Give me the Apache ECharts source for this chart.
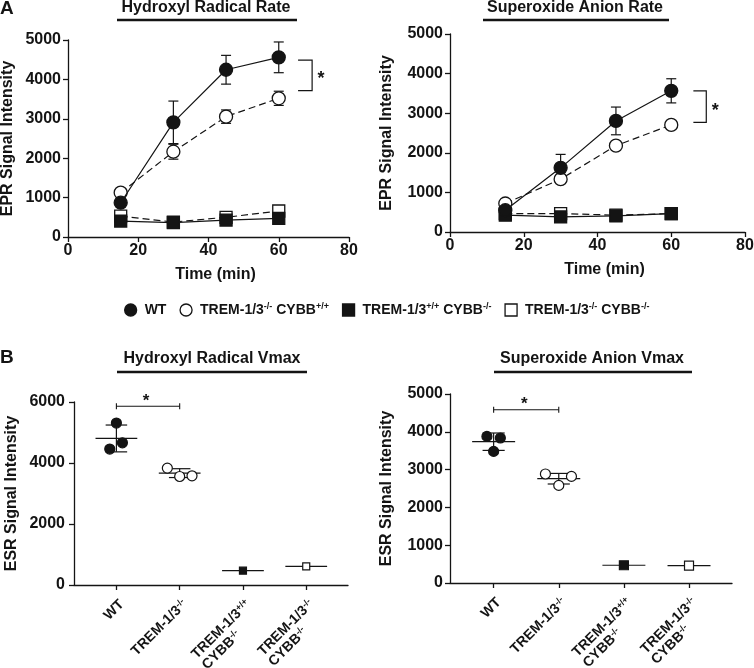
<!DOCTYPE html>
<html><head><meta charset="utf-8">
<script src="https://cdn.jsdelivr.net/npm/echarts@6/dist/echarts.min.js"></script>
<style>html,body{margin:0;padding:0;background:#fff}#c{width:754px;height:668px}</style>
</head><body><div id="c"></div>
<script>
// ---------- Panel A: time course ----------
const timeMin = [15, 30, 45, 60];
const groupNames = ['WT', 'TREM-1/3-/- CYBB+/+', 'TREM-1/3+/+ CYBB-/-', 'TREM-1/3-/- CYBB-/-'];
const legendLabels = ['WT', 'TREM-1/3{s|-/-} CYBB{s|+/+}', 'TREM-1/3{s|+/+} CYBB{s|-/-}', 'TREM-1/3{s|-/-} CYBB{s|-/-}'];
const xTicksA = [0, 20, 40, 60, 80];

// Hydroxyl radical rate (EPR signal intensity)
const hydroxylWT = [870, 2910, 4245, 4560];
const hydroxylWTErr = [60, 540, 365, 390];
const hydroxylTrem = [1125, 2165, 3055, 3520];
const hydroxylTremErr = [60, 190, 170, 180];
const hydroxylCybb = [405, 365, 430, 475];
const hydroxylCybbErr = [40, 40, 40, 40];
const hydroxylDouble = [530, 380, 500, 660];
const hydroxylDoubleErr = [40, 40, 40, 40];

// Superoxide anion rate (EPR signal intensity)
const superoxideWT = [550, 1620, 2805, 3565];
const superoxideWTErr = [80, 340, 350, 305];
const superoxideTrem = [720, 1335, 2180, 2705];
const superoxideTremErr = [100, 50, 50, 50];
const superoxideCybb = [425, 380, 405, 465];
const superoxideCybbErr = [40, 40, 40, 40];
const superoxideDouble = [465, 465, 425, 465];
const superoxideDoubleErr = [40, 40, 40, 40];

// significance brackets in panel A: [x1, x2, yTop, yBottom]
const bracketHydroxylRate = [65.5, 69.5, 4490, 3715];
const bracketSuperoxideRate = [66, 69.5, 3565, 2770];

// ---------- Panel B: Vmax ----------
const categoriesB = ['WT', 'TREM-1/3-/-', 'TREM-1/3+/+ CYBB-/-', 'TREM-1/3-/- CYBB-/-'];
const categoryLabelsB = ['{b|WT}', '{b|TREM-1/3}{s|-/-}', '{b|TREM-1/3}{s|+/+}\n{b|CYBB}{s|-/-}', '{b|TREM-1/3}{s|-/-}\n{b|CYBB}{s|-/-}'];

const hydroxylVmaxWT = [4457, 5310, 4663];
const hydroxylVmaxTrem = [3832, 3558, 3580];
const hydroxylVmaxCybb = [470];
const hydroxylVmaxDouble = [610];
const hydroxylVmaxMean = [4805, 3668, 470, 610];
const hydroxylVmaxSD = [440, 145, 0, 0];
const bracketHydroxylVmax = [0, 1, 5860];

const superoxideVmaxWT = [3878, 3836, 3482];
const superoxideVmaxTrem = [2884, 2820, 2582];
const superoxideVmaxCybb = [470];
const superoxideVmaxDouble = [460];
const superoxideVmaxMean = [3738, 2759, 470, 460];
const superoxideVmaxSD = [230, 140, 0, 0];
const bracketSuperoxideVmax = [0, 1, 4585];

// layout-only jitter offsets of the replicate dots (category units)
const jitterHydroxylWT = [-0.105, 0, 0.095];
const jitterHydroxylTrem = [-0.195, 0, 0.195];
const jitterSuperoxideWT = [-0.103, 0.103, 0];
const jitterSuperoxideTrem = [-0.205, 0.195, 0];

// ---------- styling ----------
const FONT = '"Liberation Sans", Arial, Helvetica, sans-serif';
const INK = '#141414';
const zip = (xs, ys) => xs.map((x, i) => [x, ys[i]]);
const errData = (xs, m, e) => xs.map((x, i) => [x, m[i] - e[i], m[i] + e[i]]);

const markerStyles = [
  { symbol: 'circle', fill: INK, dash: 'solid' },
  { symbol: 'circle', fill: '#fff', dash: [7, 4] },
  { symbol: 'rect', fill: INK, dash: 'solid' },
  { symbol: 'rect', fill: '#fff', dash: [7, 4] }
];

function axisCommon() {
  return {
    axisLine: { show: true, onZero: false, lineStyle: { color: INK, width: 1.3 } },
    axisTick: { show: true, length: 5, lineStyle: { color: INK, width: 1.3 } },
    splitLine: { show: false },
    axisLabel: { color: INK, fontSize: 16, fontWeight: 'bold', fontFamily: FONT }
  };
}

function errRender(capPx) {
  return function (params, api) {
    const x = api.value(0), lo = api.value(1), hi = api.value(2);
    const a = api.coord([x, lo]), b = api.coord([x, hi]);
    const st = { stroke: INK, lineWidth: 1.2 };
    return { type: 'group', children: [
      { type: 'line', shape: { x1: a[0], y1: a[1], x2: b[0], y2: b[1] }, style: st },
      { type: 'line', shape: { x1: a[0] - capPx, y1: a[1], x2: a[0] + capPx, y2: a[1] }, style: st },
      { type: 'line', shape: { x1: b[0] - capPx, y1: b[1], x2: b[0] + capPx, y2: b[1] }, style: st }
    ] };
  };
}

function bracketARender(params, api) {
  const x1 = api.value(0), x2 = api.value(1), yt = api.value(2), yb = api.value(3);
  const p1 = api.coord([x1, yt]), p2 = api.coord([x2, yt]), p3 = api.coord([x2, yb]), p4 = api.coord([x1, yb]);
  return { type: 'group', children: [
    { type: 'polyline', shape: { points: [p1, p2, p3, p4] }, style: { stroke: INK, lineWidth: 1.2, fill: null } },
    { type: 'text', x: p2[0] + 9, y: (p2[1] + p3[1]) / 2 + 4,
      style: { text: '*', font: 'bold 18px ' + FONT, textAlign: 'center', textVerticalAlign: 'middle', fill: INK } }
  ] };
}

function bracketBRender(params, api) {
  const x1 = api.value(0), x2 = api.value(1), y = api.value(2);
  const a = api.coord([x1, y]), b = api.coord([x2, y]);
  const st = { stroke: INK, lineWidth: 1.1 };
  return { type: 'group', children: [
    { type: 'line', shape: { x1: a[0], y1: a[1], x2: b[0], y2: b[1] }, style: st },
    { type: 'line', shape: { x1: a[0], y1: a[1] - 3, x2: a[0], y2: a[1] + 3 }, style: st },
    { type: 'line', shape: { x1: b[0], y1: b[1] - 3, x2: b[0], y2: b[1] + 3 }, style: st },
    { type: 'text', x: (a[0] + b[0]) / 2 - 2, y: a[1] - 5,
      style: { text: '*', font: 'bold 17px ' + FONT, textAlign: 'center', textVerticalAlign: 'middle', fill: INK } }
  ] };
}

function meanSdRender(params, api) {
  const g = api.value(0), m = api.value(1), sd = api.value(2);
  const st = { stroke: INK, lineWidth: 1.2 };
  const l = api.coord([g - 0.33, m]), r = api.coord([g + 0.33, m]);
  const kids = [{ type: 'line', shape: { x1: l[0], y1: l[1], x2: r[0], y2: r[1] }, style: st }];
  if (sd > 0) {
    const t = api.coord([g, m + sd]), b = api.coord([g, m - sd]);
    const cl = api.coord([g - 0.17, m])[0], cr = api.coord([g + 0.17, m])[0];
    kids.push({ type: 'line', shape: { x1: t[0], y1: t[1], x2: b[0], y2: b[1] }, style: st });
    kids.push({ type: 'line', shape: { x1: cl, y1: t[1], x2: cr, y2: t[1] }, style: st });
    kids.push({ type: 'line', shape: { x1: cl, y1: b[1], x2: cr, y2: b[1] }, style: st });
  }
  return { type: 'group', children: kids };
}

function lineSeries(idx, axisIdx, ys, zBase) {
  const m = markerStyles[idx];
  return {
    type: 'line', name: groupNames[idx], xAxisIndex: axisIdx, yAxisIndex: axisIdx,
    data: zip(timeMin, ys), symbol: m.symbol, symbolSize: m.symbol === 'circle' ? 13 : 12,
    itemStyle: { color: m.fill, borderColor: INK, borderWidth: 1.3, opacity: 1 },
    lineStyle: { color: INK, width: 1.2, type: m.dash },
    z: zBase + [4, 3, 2, 1][idx], animation: false, silent: true
  };
}

function scatterSeries(idx, axisIdx, pts, size) {
  const m = markerStyles[idx];
  return {
    type: 'scatter', name: groupNames[idx], xAxisIndex: axisIdx, yAxisIndex: axisIdx,
    data: pts, symbol: m.symbol, symbolSize: size,
    itemStyle: { color: m.fill, borderColor: INK, borderWidth: 1.2, opacity: 1 },
    z: 5, animation: false, silent: true
  };
}

const richB = {
  b: { fontSize: 14, fontWeight: 'bold', fontFamily: FONT, color: INK, align: 'left', lineHeight: 15 },
  s: { fontSize: 9, fontWeight: 'bold', fontFamily: FONT, color: INK, align: 'left', verticalAlign: 'top', lineHeight: 10 }
};

function xAxisB(gridIndex) {
  const c = axisCommon();
  return Object.assign(c, {
    type: 'value', gridIndex, min: -0.67, max: 3.66,
    axisTick: { show: true, length: 5, lineStyle: { color: INK, width: 1.3 }, customValues: [0, 1, 2, 3] },
    axisLabel: { color: INK, fontSize: 14, fontWeight: 'bold', fontFamily: FONT, rotate: 45, margin: 12,
      verticalAlign: 'top',
      customValues: [0, 1, 2, 3], formatter: v => categoryLabelsB[Math.round(v)], rich: richB }
  });
}

function xAxisA(gridIndex) {
  const c = axisCommon();
  c.axisLabel.margin = 6;
  c.axisLabel.formatter = v => String(v);
  return Object.assign(c, {
    type: 'value', gridIndex, min: xTicksA[0], max: xTicksA[xTicksA.length - 1], interval: 20,
    name: 'Time (min)', nameLocation: 'middle', nameGap: 30,
    nameTextStyle: { color: INK, fontSize: 16, fontWeight: 'bold', fontFamily: FONT, padding: [0, 0, 0, 14] }
  });
}

function yAxis(gridIndex, max, interval, name, gap, margin) {
  const c = axisCommon();
  c.axisLabel.margin = margin;
  c.axisLabel.formatter = v => String(v);
  return Object.assign(c, {
    type: 'value', gridIndex, min: 0, max, interval,
    name, nameLocation: 'middle', nameGap: gap, nameRotate: 90,
    nameTextStyle: { color: INK, fontSize: 16, fontWeight: 'bold', fontFamily: FONT }
  });
}

const chart = echarts.init(document.getElementById('c'), null, { renderer: 'canvas' });

const titleStyle = t => ({ text: t, font: 'bold 16px ' + FONT, fill: INK, textAlign: 'center', textVerticalAlign: 'middle' });
const underline = (x1, x2, y) => ({ type: 'line', shape: { x1, y1: y, x2, y2: y }, style: { stroke: INK, lineWidth: 2.6 } });

const option = {
  backgroundColor: '#fff',
  animation: false,
  textStyle: { fontFamily: FONT },
  grid: [
    { left: 68, top: 40, width: 281, height: 197, outerBoundsMode: 'none', containLabel: false },
    { left: 450, top: 34, width: 295, height: 198, outerBoundsMode: 'none', containLabel: false },
    { left: 74, top: 402, width: 274, height: 183, outerBoundsMode: 'none', containLabel: false },
    { left: 450, top: 394, width: 282, height: 189, outerBoundsMode: 'none', containLabel: false }
  ],
  xAxis: [xAxisA(0), xAxisA(1), xAxisB(2), xAxisB(3)],
  yAxis: [
    yAxis(0, 5000, 1000, 'EPR Signal Intensity', 52, 7),
    yAxis(1, 5000, 1000, 'EPR Signal Intensity', 55, 7),
    yAxis(2, 6000, 2000, 'ESR Signal Intensity', 54, 9),
    yAxis(3, 5000, 1000, 'ESR Signal Intensity', 55, 7)
  ],
  legend: {
    left: 119, top: 297, itemWidth: 12, itemHeight: 12, itemGap: 13, selectedMode: false,
    data: groupNames.map((n, i) => ({
      name: n, icon: markerStyles[i].symbol === 'circle' ? 'circle' : 'rect',
      itemStyle: { color: markerStyles[i].fill, borderColor: INK, borderWidth: 1.3 }
    })),
    formatter: name => legendLabels[groupNames.indexOf(name)],
    textStyle: { color: INK, fontSize: 14, fontWeight: 'bold', fontFamily: FONT, lineHeight: 16, padding: [0, 0, 0, 3],
      rich: { s: { fontSize: 9, fontWeight: 'bold', fontFamily: FONT, color: INK, verticalAlign: 'top', lineHeight: 10 } } }
  },
  graphic: [
    { type: 'text', x: 0, y: 9, style: { text: 'A', font: 'bold 19px ' + FONT, fill: INK, textVerticalAlign: 'middle' } },
    { type: 'text', x: 0, y: 358, style: { text: 'B', font: 'bold 19px ' + FONT, fill: INK, textVerticalAlign: 'middle' } },
    { type: 'text', x: 206, y: 8, style: titleStyle('Hydroxyl Radical Rate') },
    underline(117, 297, 20),
    { type: 'text', x: 575, y: 8, style: titleStyle('Superoxide Anion Rate') },
    underline(483, 669, 20),
    { type: 'text', x: 212, y: 359, style: titleStyle('Hydroxyl Radical Vmax') },
    underline(117, 307, 372),
    { type: 'text', x: 592, y: 359, style: titleStyle('Superoxide Anion Vmax') },
    underline(494, 692, 372)
  ],
  series: [
    // Panel A left: error bars, lines
    { type: 'custom', xAxisIndex: 0, yAxisIndex: 0, z: 1, silent: true, renderItem: errRender(5),
      data: [].concat(errData(timeMin, hydroxylWT, hydroxylWTErr), errData(timeMin, hydroxylTrem, hydroxylTremErr),
        errData(timeMin, hydroxylCybb, hydroxylCybbErr), errData(timeMin, hydroxylDouble, hydroxylDoubleErr)) },
    lineSeries(3, 0, hydroxylDouble, 2),
    lineSeries(2, 0, hydroxylCybb, 2),
    lineSeries(1, 0, hydroxylTrem, 2),
    lineSeries(0, 0, hydroxylWT, 2),
    { type: 'custom', xAxisIndex: 0, yAxisIndex: 0, z: 3, silent: true, clip: false, renderItem: bracketARender, data: [bracketHydroxylRate] },

    // Panel A right
    { type: 'custom', xAxisIndex: 1, yAxisIndex: 1, z: 1, silent: true, renderItem: errRender(5),
      data: [].concat(errData(timeMin, superoxideWT, superoxideWTErr), errData(timeMin, superoxideTrem, superoxideTremErr),
        errData(timeMin, superoxideCybb, superoxideCybbErr), errData(timeMin, superoxideDouble, superoxideDoubleErr)) },
    lineSeries(3, 1, superoxideDouble, 2),
    lineSeries(2, 1, superoxideCybb, 2),
    lineSeries(1, 1, superoxideTrem, 2),
    lineSeries(0, 1, superoxideWT, 2),
    { type: 'custom', xAxisIndex: 1, yAxisIndex: 1, z: 3, silent: true, clip: false, renderItem: bracketARender, data: [bracketSuperoxideRate] },

    // Panel B left
    { type: 'custom', xAxisIndex: 2, yAxisIndex: 2, z: 1, silent: true, renderItem: meanSdRender,
      data: hydroxylVmaxMean.map((m, g) => [g, m, hydroxylVmaxSD[g]]) },
    scatterSeries(0, 2, hydroxylVmaxWT.map((v, i) => [0 + jitterHydroxylWT[i], v]), 10),
    scatterSeries(1, 2, hydroxylVmaxTrem.map((v, i) => [1 + jitterHydroxylTrem[i], v]), 10),
    scatterSeries(2, 2, hydroxylVmaxCybb.map(v => [2, v]), 7),
    scatterSeries(3, 2, hydroxylVmaxDouble.map(v => [3, v]), 7),
    { type: 'custom', xAxisIndex: 2, yAxisIndex: 2, z: 3, silent: true, clip: false, renderItem: bracketBRender, data: [bracketHydroxylVmax] },

    // Panel B right
    { type: 'custom', xAxisIndex: 3, yAxisIndex: 3, z: 1, silent: true, renderItem: meanSdRender,
      data: superoxideVmaxMean.map((m, g) => [g, m, superoxideVmaxSD[g]]) },
    scatterSeries(0, 3, superoxideVmaxWT.map((v, i) => [0 + jitterSuperoxideWT[i], v]), 10),
    scatterSeries(1, 3, superoxideVmaxTrem.map((v, i) => [1 + jitterSuperoxideTrem[i], v]), 10),
    scatterSeries(2, 3, superoxideVmaxCybb.map(v => [2, v]), 9),
    scatterSeries(3, 3, superoxideVmaxDouble.map(v => [3, v]), 9),
    { type: 'custom', xAxisIndex: 3, yAxisIndex: 3, z: 3, silent: true, clip: false, renderItem: bracketBRender, data: [bracketSuperoxideVmax] }
  ]
};
chart.setOption(option);
</script>
</body></html>
